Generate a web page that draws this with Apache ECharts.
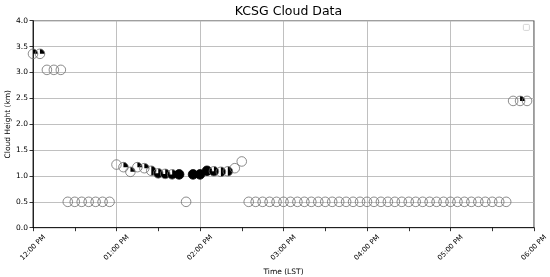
<!DOCTYPE html>
<html>
<head>
<meta charset="utf-8">
<script src="https://cdn.jsdelivr.net/npm/echarts@6/dist/echarts.min.js"></script>
<style>
  html, body { margin: 0; padding: 0; background: #fff; }
  #chart { width: 550px; height: 277px; }
</style>
</head>
<body>
<div id="chart"></div>
<script>
// observation times (local), cloud base height (km), sky cover fraction (0 clear .. 1 overcast)
var times = [
  '12:00','12:05','12:10','12:15','12:20','12:25','12:30','12:35','12:40','12:45','12:50','12:55',
  '13:00','13:05','13:10','13:15','13:20','13:25','13:30','13:35','13:40','13:45','13:50','13:55',
  '14:00','14:05','14:10','14:15','14:20','14:25','14:30','14:35','14:40','14:45','14:50','14:55',
  '15:00','15:05','15:10','15:15','15:20','15:25','15:30','15:35','15:40','15:45','15:50','15:55',
  '16:00','16:05','16:10','16:15','16:20','16:25','16:30','16:35','16:40','16:45','16:50','16:55',
  '17:00','17:05','17:10','17:15','17:20','17:25','17:30','17:35','17:40','17:45','17:50','17:55'
];
var heights = [
  3.36,3.36,3.05,3.05,3.05,0.5,0.5,0.5,0.5,0.5,0.5,0.5,
  1.22,1.17,1.08,1.17,1.15,1.10,1.05,1.04,1.03,1.03,0.5,1.03,
  1.03,1.10,1.09,1.08,1.09,1.15,1.28,0.5,0.5,0.5,0.5,0.5,
  0.5,0.5,0.5,0.5,0.5,0.5,0.5,0.5,0.5,0.5,0.5,0.5,
  0.5,0.5,0.5,0.5,0.5,0.5,0.5,0.5,0.5,0.5,0.5,0.5,
  0.5,0.5,0.5,0.5,0.5,0.5,0.5,0.5,0.5,2.45,2.45,2.45
];
var cover = [
  0.25,0.25,0,0,0,0,0,0,0,0,0,0,
  0,0.25,0.25,0.25,0.25,0.5,0.75,0.75,0.75,1,0,1,
  1,1,0.75,0.5,0.5,0,0,0,0,0,0,0,
  0,0,0,0,0,0,0,0,0,0,0,0,
  0,0,0,0,0,0,0,0,0,0,0,0,
  0,0,0,0,0,0,0,0,0,0,0.25,0
];
var hourLabels = ['12:00 PM','01:00 PM','02:00 PM','03:00 PM','04:00 PM','05:00 PM','06:00 PM'];

function toMinutes(t) {
  var p = t.split(':');
  return (parseInt(p[0], 10) - 12) * 60 + parseInt(p[1], 10);
}

var points = [];
for (var i = 0; i < times.length; i++) {
  points.push([toMinutes(times[i]), heights[i], cover[i]]);
}

function renderCover(params, api) {
  var pt = api.coord([api.value(0), api.value(1)]);
  var frac = api.value(2);
  var r = 4.8;
  var kids = [];
  if (frac > 0 && frac < 1) {
    kids.push({
      type: 'sector',
      shape: { cx: pt[0], cy: pt[1], r0: 0, r: r, startAngle: -Math.PI / 2, endAngle: -Math.PI / 2 + frac * Math.PI * 2, clockwise: true },
      style: { fill: '#000' }
    });
  }
  kids.push({
    type: 'circle',
    shape: { cx: pt[0], cy: pt[1], r: r },
    style: { fill: frac >= 1 ? '#000' : 'none', stroke: frac >= 1 ? '#000' : '#6e6e6e', lineWidth: 0.8 }
  });
  return { type: 'group', children: kids };
}

var chart = echarts.init(document.getElementById('chart'), null, { renderer: 'canvas' });
var fontFam = 'DejaVu Sans';
chart.setOption({
  animation: false,
  title: {
    text: 'KCSG Cloud Data',
    left: 283.5, top: 0, textAlign: 'center',
    textStyle: { fontFamily: fontFam, fontSize: 12.5, fontWeight: 'normal', color: '#000' }
  },
  grid: {
    left: 33, right: 16, top: 20.7, bottom: 49.3,
    outerBoundsMode: 'none', containLabel: false,
    show: true, borderColor: '#000', borderWidth: 0.8, backgroundColor: 'transparent'
  },
  xAxis: {
    type: 'value', min: 0, max: 360, interval: 60,
    name: 'Time (LST)', nameLocation: 'middle', nameGap: 40, nameMoveOverlap: false,
    nameTextStyle: { fontFamily: fontFam, fontSize: 7.5, color: '#000' },
    axisLine: { show: true, lineStyle: { color: '#000', width: 0.8 } },
    axisTick: { show: true, inside: false, length: 3.5, lineStyle: { color: '#000', width: 0.8 } },
    minorTick: { show: true, splitNumber: 2, length: 3.5, lineStyle: { color: '#000', width: 0.8 } },
    splitLine: { show: true, lineStyle: { color: '#b0b0b0', width: 0.8 } },
    axisLabel: {
      rotate: 45, align: 'center', verticalAlign: 'middle', margin: 20,
      fontFamily: fontFam, fontSize: 7, color: '#000',
      formatter: function (v) { return hourLabels[Math.round(v / 60)]; }
    }
  },
  yAxis: {
    type: 'value', min: 0, max: 4, interval: 0.5,
    name: 'Cloud Height (km)', nameLocation: 'middle', nameGap: 21, nameMoveOverlap: false,
    nameTextStyle: { fontFamily: fontFam, fontSize: 7.5, color: '#000' },
    axisLine: { show: true, lineStyle: { color: '#000', width: 0.8 } },
    axisTick: { show: true, inside: false, length: 3.5, lineStyle: { color: '#000', width: 0.8 } },
    splitLine: { show: true, lineStyle: { color: '#b0b0b0', width: 0.8 } },
    axisLabel: {
      margin: 5, fontFamily: fontFam, fontSize: 7.5, color: '#000',
      formatter: function (v) { return v.toFixed(1); }
    }
  },
  graphic: [{
    type: 'rect', left: 523, top: 24,
    shape: { width: 6, height: 6, r: 1 },
    style: { fill: '#fff', stroke: '#ccc', lineWidth: 0.8 }
  }],
  series: [{
    type: 'custom',
    renderItem: renderCover,
    data: points,
    encode: { x: 0, y: 1 },
    clip: false
  }]
});
</script>
</body>
</html>
